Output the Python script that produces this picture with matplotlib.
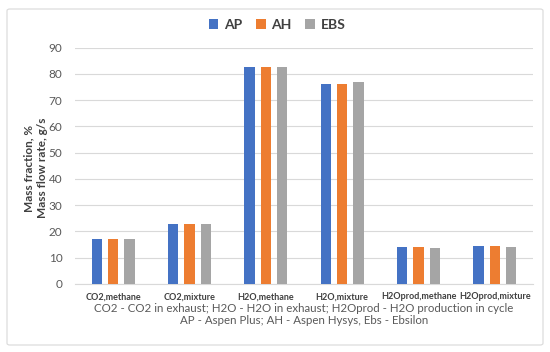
import matplotlib
matplotlib.use("Agg")
import matplotlib.pyplot as plt
import numpy as np
from matplotlib.patches import FancyBboxPatch

plt.rcParams['font.family'] = ['Lato', 'DejaVu Sans']

categories = ["CO2,methane", "CO2,mixture", "H2O,methane", "H2O,mixture",
              "H2Oprod,methane", "H2Oprod,mixture"]
series_names = ["AP", "AH", "EBS"]
ap = [17.0, 22.7, 82.8, 76.3, 14.0, 14.3]
ah = [17.0, 22.7, 82.8, 76.3, 14.0, 14.3]
ebs = [17.0, 22.7, 82.8, 76.9, 13.8, 14.1]
colors = ["#4472C4", "#ED7D31", "#A5A5A5"]
yticks = [0, 10, 20, 30, 40, 50, 60, 70, 80, 90]

fig = plt.figure(figsize=(5.5, 3.52), dpi=100)
fig.patches.append(FancyBboxPatch((7/550, 7/352), 536/550, 336/352,
                                  boxstyle="round,pad=0,rounding_size=0.005",
                                  transform=fig.transFigure, fill=False,
                                  edgecolor="#D9D9D9", linewidth=0.8))
ax = fig.add_axes([75/550, 1-284/352, (533-75)/550, (284-47.7)/352])

x = np.arange(len(categories))
w = 0.135
step = 0.215
for i, (vals, name, c) in enumerate(zip([ap, ah, ebs], series_names, colors)):
    ax.bar(x + (i-1)*step, vals, width=w, color=c, label=name, zorder=3)

ax.set_xlim(-0.5, len(categories)-0.5)
ax.set_ylim(0, 90)
ax.set_yticks(yticks)
ax.yaxis.grid(True, color="#D9D9D9", linewidth=0.8, zorder=0)
for s in ["top", "right", "left"]:
    ax.spines[s].set_visible(False)
ax.spines["bottom"].set_color("#D9D9D9")
ax.tick_params(axis="both", length=0, colors="#595959")
ax.tick_params(axis="y", labelsize=8.5, pad=9)
ax.set_xticks(x)
ax.set_xticklabels(categories, fontsize=6.5, fontweight="bold", color="#404040")
ax.tick_params(axis="x", pad=6)

ax.set_ylabel("Mass fraction, %\nMass flow rate, g/s", fontsize=8.5,
              fontweight="bold", color="#404040", linespacing=1.25)
ax.yaxis.set_label_coords((48-75)/458, 0.49)

fig.text(304/550, 1-308/352,
         "CO2 - CO2 in exhaust; H2O - H2O in exhaust; H2Oprod - H2O production in cycle",
         ha="center", va="center", fontsize=8.3, color="#595959")
fig.text(304/550, 1-321/352,
         "AP - Aspen Plus; AH - Aspen Hysys, Ebs - Ebsilon",
         ha="center", va="center", fontsize=8.3, color="#595959")

leg = fig.legend(loc="center", bbox_to_anchor=(277/550, 1-25/352), ncol=3,
                 frameon=False, fontsize=10, handlelength=0.7,
                 handleheight=0.7, columnspacing=1.0, handletextpad=0.4)
for t in leg.get_texts():
    t.set_fontweight("bold")
    t.set_color("#404040")

fig.savefig("out.png", dpi=100)
